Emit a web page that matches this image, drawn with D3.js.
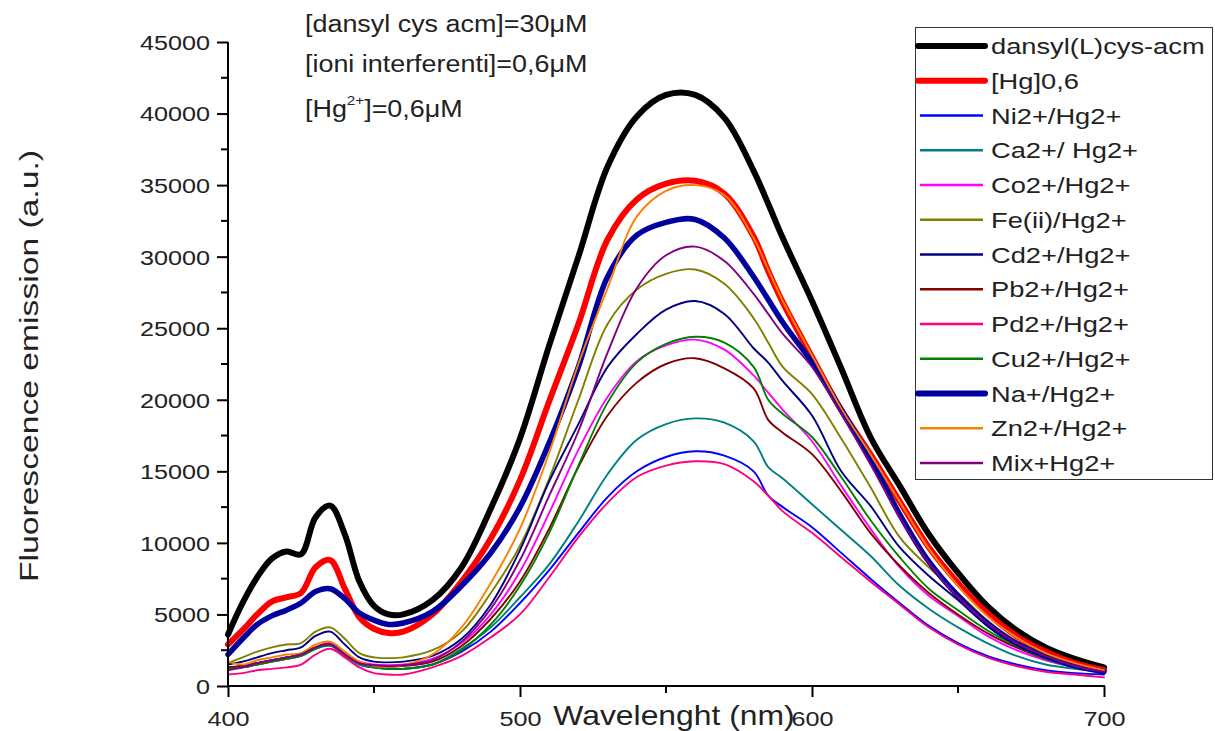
<!DOCTYPE html>
<html><head><meta charset="utf-8">
<script src="https://cdn.jsdelivr.net/npm/d3@7/dist/d3.min.js"></script>
<style>
body{margin:0;background:#fff;}
svg{display:block;font-family:"Liberation Sans",Arial,sans-serif;}
</style></head>
<body><svg id="c" width="1215" height="731"></svg>
<script>
const wavelengths = [400,405,410,415,420,425,430,435,440,445,450,455,460,470,480,490,500,510,520,530,540,550,560,570,580,585,590,600,610,620,630,640,650,660,670,680,690,700];

const seriesNames = ["dansyl(L)cys-acm","[Hg]0,6","Ni2+/Hg2+","Ca2+/ Hg2+","Co2+/Hg2+","Fe(ii)/Hg2+","Cd2+/Hg2+","Pb2+/Hg2+","Pd2+/Hg2+","Cu2+/Hg2+","Na+/Hg2+","Zn2+/Hg2+","Mix+Hg2+"];

const dansyl = [3600,5800,7600,8900,9400,9200,11800,12600,10600,7300,5600,5000,5000,6000,8300,12400,17300,23800,30000,36300,39800,41300,41300,39700,36000,33700,31300,26900,22200,17400,14000,10600,7900,5600,3900,2700,1900,1300];
const hg06 = [2900,3900,5000,5900,6200,6500,8300,8800,6800,4800,4000,3700,3800,5000,7300,10300,14400,19900,25300,31200,34000,35100,35300,34400,31400,29000,26800,23000,19300,16200,12900,9700,7200,5100,3500,2400,1600,1100];
const ni = [1300,1400,1600,1800,2000,2200,2700,2900,2200,1500,1300,1200,1200,1500,2400,3800,5800,8100,10700,13200,15000,16000,16400,16100,15000,13300,12500,11100,9300,7500,5800,4200,3000,2100,1500,1100,900,800];
const ca = [1300,1300,1500,1700,1900,2100,2600,2800,2100,1500,1300,1200,1200,1500,2600,4100,6200,8500,11500,14800,17200,18300,18700,18400,17100,15300,14500,12700,10900,9100,7000,5400,4100,3000,2100,1500,1200,1000];
const co = [1300,1300,1500,1700,1900,2100,2700,3000,2300,1700,1500,1450,1500,1900,3000,5000,8000,12100,16500,20200,22700,23800,24200,23500,21700,20500,19300,17100,14000,11000,8300,6300,4900,3500,2500,1800,1300,900];
const fe = [1600,2000,2400,2700,2900,3000,3800,4100,3300,2300,2000,1950,2000,2500,3800,6500,9800,14500,20000,25300,27700,28800,29100,28100,25700,24000,22300,20400,17300,13900,10400,8300,6500,4600,3100,2100,1500,1000];
const cd = [1500,1700,2000,2300,2500,2700,3500,3800,2900,2000,1700,1650,1700,2100,3300,5700,9500,14300,18300,22300,24600,26300,26900,26000,23600,22600,21300,18900,15000,12600,9700,7700,6000,4200,2800,2000,1400,1000];
const pb = [1300,1400,1600,1800,2000,2200,2700,2900,2200,1600,1400,1350,1400,1700,2800,4700,7300,11000,15300,18900,21200,22500,22900,22200,20800,18600,17700,16200,13600,10700,8400,6500,5000,3700,2700,1900,1400,1000];
const pd = [800,900,1100,1200,1300,1500,2200,2600,2000,1300,900,800,800,1300,2100,3400,5000,7600,10400,12800,14600,15400,15700,15500,14300,13300,12200,10700,9000,7300,5700,4100,2900,2000,1400,1000,800,600];
const cu = [1200,1300,1500,1700,1900,2100,2600,2900,2200,1600,1300,1200,1200,1500,2500,4300,7000,10700,15400,19800,22600,23900,24400,24000,22300,20000,19000,17400,14600,11600,9000,6800,5300,3900,2800,1900,1300,900];
const na = [2200,3300,4300,4900,5300,5800,6600,6800,6100,5100,4600,4300,4400,5200,7000,9300,12500,17000,22300,28600,31500,32400,32600,31300,28600,27000,25400,22600,19300,15900,12000,8700,6300,4400,3000,2100,1400,1000];
const zn = [1700,1500,1800,2000,2200,2300,2900,3100,2400,1700,1400,1350,1450,2200,4100,7200,11000,16300,22500,27800,32800,34600,35000,34300,31300,29100,26900,23100,19400,16200,12900,9600,7000,4900,3400,2300,1600,1100];
const mix = [1100,1300,1600,1800,2000,2200,2700,2900,2200,1600,1450,1400,1450,1800,3100,5400,8800,13300,17800,23300,27800,30100,30700,29700,27400,26000,24600,22300,19000,15500,11800,8600,6200,4400,3000,2100,1400,1000];

const seriesValues = [dansyl,hg06,ni,ca,co,fe,cd,pb,pd,cu,na,zn,mix];
const seriesColors = ["#000000","#ff0000","#0000ff","#008080","#ff00ff","#808000","#000080","#800000","#ff0080","#008000","#0000a0","#ff8000","#800080"];
const thick = [true,true,false,false,false,false,false,false,false,false,true,false,false];

const yTicks = [0,5000,10000,15000,20000,25000,30000,35000,40000,45000];
const yMinor = [2500,7500,12500,17500,22500,27500,32500,37500,42500];
const xTicks = [400,500,600,700];
const xMinor = [450,550,650];
const annotLines = ["[dansyl cys acm]=30\u03bcM","[ioni interferenti]=0,6\u03bcM"];

const svg = d3.select("#c");
const x = d3.scaleLinear().domain([400,700]).range([228,1104]);
const y = d3.scaleLinear().domain([0,45000]).range([686,42]);
const SX = 1.2;

// lines
const line = d3.line().x((d,i)=>x(wavelengths[i])).y(d=>y(d)).curve(d3.curveCatmullRom.alpha(0.5));
const g = svg.append("g");
seriesValues.forEach((vals,k)=>{
  g.append("path").attr("d",line(vals)).attr("fill","none")
   .attr("stroke",seriesColors[k]).attr("stroke-width",thick[k]?(k===10?5.5:6):1.9)
   .attr("stroke-linejoin","round").attr("stroke-linecap","round");
});

// axes
const ya = svg.append("g").attr("transform","translate(228,0)")
  .call(d3.axisLeft(y).tickValues(yTicks).tickSize(11).tickFormat(d3.format("d")));
ya.select(".domain").attr("stroke","#000").attr("stroke-width",2).attr("d","M0,42V687");
ya.selectAll(".tick line").attr("stroke","#000").attr("stroke-width",2);
ya.selectAll(".tick text").attr("x",0).attr("dy","0.35em")
  .attr("transform",`translate(-18,0) scale(${SX},1)`)
  .attr("font-size",21).attr("fill","#222").attr("font-family","Liberation Sans, Arial");
ya.selectAll(".minor").data(yMinor).enter().append("line").attr("class","minor")
  .attr("x1",-7).attr("x2",0).attr("y1",d=>y(d)).attr("y2",d=>y(d)).attr("stroke","#000").attr("stroke-width",2);

const xa = svg.append("g").attr("transform","translate(0,686)")
  .call(d3.axisBottom(x).tickValues(xTicks).tickSize(11).tickFormat(d3.format("d")));
xa.select(".domain").attr("stroke","#000").attr("stroke-width",2).attr("d","M227,0H1105");
xa.selectAll(".tick line").attr("stroke","#000").attr("stroke-width",2);
xa.selectAll(".tick text").attr("y",0).attr("dy",0)
  .attr("transform",`translate(0,40) scale(${SX},1)`)
  .attr("font-size",21).attr("fill","#222").attr("font-family","Liberation Sans, Arial");
xa.selectAll(".minor").data(xMinor).enter().append("line").attr("class","minor")
  .attr("x1",d=>x(d)).attr("x2",d=>x(d)).attr("y1",0).attr("y2",7).attr("stroke","#000").attr("stroke-width",2);

// axis titles
svg.append("text").attr("transform",`translate(674,725) scale(1.18,1)`).attr("text-anchor","middle")
  .attr("font-size",27).attr("fill","#222").text("Wavelenght (nm)");
svg.append("text").attr("transform",`translate(38,366) rotate(-90)`).attr("text-anchor","middle")
  .attr("font-size",25).attr("fill","#222").attr("textLength",432).attr("lengthAdjust","spacingAndGlyphs")
  .text("Fluorescence emission (a.u.)");

// annotations
annotLines.forEach((t,i)=>{
  svg.append("text").attr("transform",`translate(305,${32+i*40}) scale(1.17,1)`)
    .attr("font-size",23).attr("fill","#222").text(t);
});
const t3 = svg.append("text").attr("transform",`translate(305,117) scale(1.17,1)`).attr("font-size",23).attr("fill","#222");
t3.append("tspan").text("[Hg");
t3.append("tspan").attr("font-size",13).attr("dy",-12).text("2+");
t3.append("tspan").attr("dy",12).text("]=0,6\u03bcM");

// legend
const lg = svg.append("g");
lg.append("rect").attr("x",915.5).attr("y",27.5).attr("width",297).attr("height",452)
  .attr("fill","#fff").attr("stroke","#333").attr("stroke-width",1);
seriesNames.forEach((n,i)=>{
  const yy = 46 + i*34.75;
  lg.append("line").attr("x1",thick[i]?918:920).attr("x2",thick[i]?985:983).attr("y1",yy).attr("y2",yy)
    .attr("stroke",seriesColors[i]).attr("stroke-width",thick[i]?6:2.5).attr("stroke-linecap",thick[i]?"round":"butt");
  lg.append("text").attr("transform",`translate(991,${yy+8}) scale(1.24,1)`)
    .attr("font-size",22).attr("fill","#222").text(n);
});
</script></body></html>
